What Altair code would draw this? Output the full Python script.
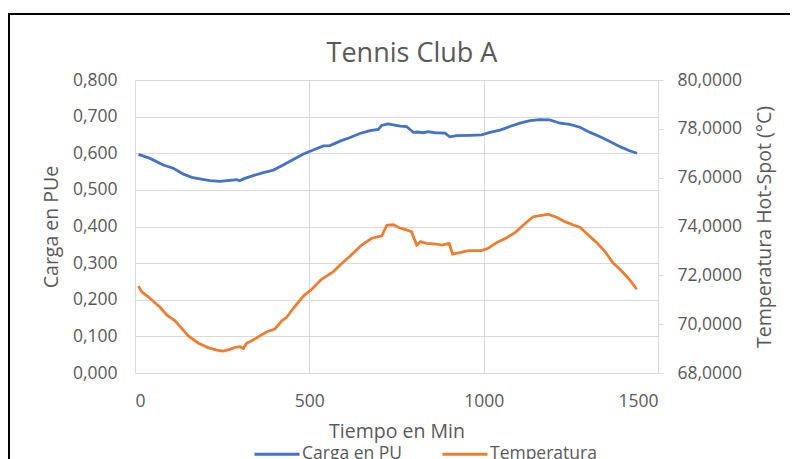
import altair as alt
import pandas as pd

# Carga en PU (left axis)
carga_min = [10, 43, 81, 110, 139, 163, 186, 215, 244, 272, 292, 300, 311, 339, 368, 397, 425, 454, 483,
             511, 540, 559, 588, 617, 645, 674, 698, 707, 726, 745, 760, 779, 798, 810, 827, 841, 860,
             889, 903, 922, 961, 994, 1018, 1047, 1075, 1104, 1133, 1161, 1190, 1219, 1247, 1276, 1305,
             1334, 1362, 1391, 1420, 1440]
carga_val = [0.597, 0.586, 0.568, 0.559, 0.543, 0.534, 0.530, 0.525, 0.523, 0.526, 0.528, 0.525, 0.530,
             0.539, 0.547, 0.554, 0.568, 0.583, 0.598, 0.609, 0.620, 0.621, 0.633, 0.643, 0.654, 0.662,
             0.665, 0.676, 0.680, 0.677, 0.674, 0.673, 0.657, 0.658, 0.656, 0.659, 0.656, 0.655, 0.645,
             0.648, 0.649, 0.650, 0.657, 0.663, 0.673, 0.682, 0.689, 0.692, 0.691, 0.682, 0.679, 0.671,
             0.657, 0.645, 0.632, 0.618, 0.606, 0.600]

# Temperatura (right axis)
temp_min = [10, 19, 38, 57, 72, 91, 115, 134, 153, 182, 210, 234, 253, 272, 287, 301, 311, 320, 339, 358,
            378, 401, 421, 435, 454, 483, 507, 535, 569, 588, 617, 650, 679, 708, 722, 741, 758, 774, 793,
            808, 819, 836, 865, 880, 901, 911, 932, 956, 994, 1013, 1037, 1066, 1090, 1114, 1142, 1166,
            1185, 1209, 1233, 1257, 1276, 1300, 1324, 1348, 1372, 1391, 1415, 1439]
temp_val = [71.56, 71.33, 71.12, 70.88, 70.69, 70.38, 70.14, 69.83, 69.52, 69.22, 69.04, 68.94, 68.90,
            68.97, 69.05, 69.08, 69.01, 69.22, 69.35, 69.52, 69.69, 69.80, 70.14, 70.28, 70.65, 71.15,
            71.43, 71.84, 72.15, 72.42, 72.79, 73.24, 73.52, 73.62, 74.05, 74.07, 73.95, 73.88, 73.79,
            73.24, 73.38, 73.31, 73.28, 73.24, 73.31, 72.87, 72.93, 73.01, 73.01, 73.11, 73.34, 73.54,
            73.75, 74.06, 74.40, 74.46, 74.50, 74.38, 74.20, 74.06, 73.97, 73.65, 73.34, 72.97, 72.49,
            72.25, 71.88, 71.43]

x_ticks = [0, 500, 1000, 1500]
left_ticks = [0.0, 0.1, 0.2, 0.3, 0.4, 0.5, 0.6, 0.7, 0.8]
right_ticks = [68, 70, 72, 74, 76, 78, 80]
series = ["Carga en PU", "Temperatura"]
colors = ["#4472C4", "#ED7D31"]
title_text = ["Tennis Club A"]

FONT = "Open Sans"
GREY = "#595959"
GRID = "#d9d9d9"

df_c = pd.DataFrame({"min": carga_min, "val": carga_val})
df_t = pd.DataFrame({"min": temp_min, "val": temp_val})

color_scale = alt.Scale(domain=series, range=colors)

x_enc = alt.X("min:Q", scale=alt.Scale(domain=[0, 1500], nice=False),
              axis=alt.Axis(values=x_ticks, format="d", title="Tiempo en Min", grid=True,
                            gridColor=GRID, domainColor=GRID, ticks=False, labelPadding=19,
                            titlePadding=13))

left = alt.Chart(df_c).mark_line(strokeWidth=2.8).encode(
    x=x_enc,
    y=alt.Y("val:Q", scale=alt.Scale(domain=[0, 0.8], nice=False),
            axis=alt.Axis(values=left_ticks, title="Carga en PUe", grid=True, gridColor=GRID,
                          domain=False, ticks=False, labelPadding=18, titlePadding=11,
                          labelExpr="replace(format(datum.value, '.3f'), '.', ',')")),
    color=alt.Color("s:N", scale=color_scale, legend=alt.Legend(
        title=None, orient="none", legendX=118, legendY=350, direction="horizontal",
        symbolType="stroke", symbolSize=2025, symbolStrokeWidth=3, labelFontSize=17.5,
        labelColor=GREY, labelFont=FONT, columnPadding=33, labelOffset=1)),
).transform_calculate(s="'Carga en PU'")

right = alt.Chart(df_t).mark_line(strokeWidth=2.8).encode(
    x=x_enc,
    y=alt.Y("val:Q", scale=alt.Scale(domain=[68, 80], nice=False),
            axis=alt.Axis(values=right_ticks, orient="right", title="Temperatura Hot-Spot (°C)",
                          grid=False, domainColor=GRID, tickColor=GRID, tickSize=5,
                          labelPadding=14, titlePadding=33, titleAngle=270,
                          labelExpr="replace(format(datum.value, '.4f'), '.', ',')")),
    color=alt.Color("s:N", scale=color_scale),
).transform_calculate(s="'Temperatura'")

title = alt.Chart(pd.DataFrame({"t": title_text})).mark_text(
    font=FONT, fontSize=27, color=GREY, baseline="alphabetic", align="center"
).encode(text="t:N", x=alt.value(277), y=alt.value(-18))

frame_data = alt.Data(values=[{"a": 1}])
top_line = alt.Chart(frame_data).mark_rule(color="black", strokeWidth=2).encode(
    x=alt.value(-127), x2=alt.value(663), y=alt.value(-66))
left_line = alt.Chart(frame_data).mark_rule(color="black", strokeWidth=2).encode(
    x=alt.value(-126), y=alt.value(-67), y2=alt.value(380))

chart = alt.layer(left, right, title, top_line, left_line).resolve_scale(y="independent").properties(
    width=523, height=293,
    autosize=alt.AutoSizeParams(type="none"),
    padding={"left": 127, "top": 72, "right": 132, "bottom": 86},
).configure_axis(
    labelFont=FONT, titleFont=FONT, labelFontSize=17.5, titleFontSize=19.5,
    labelColor=GREY, titleColor=GREY, titleFontWeight="normal",
).configure_view(stroke=None)

chart.save("out.html", embed_options={"renderer": "svg", "actions": False})
